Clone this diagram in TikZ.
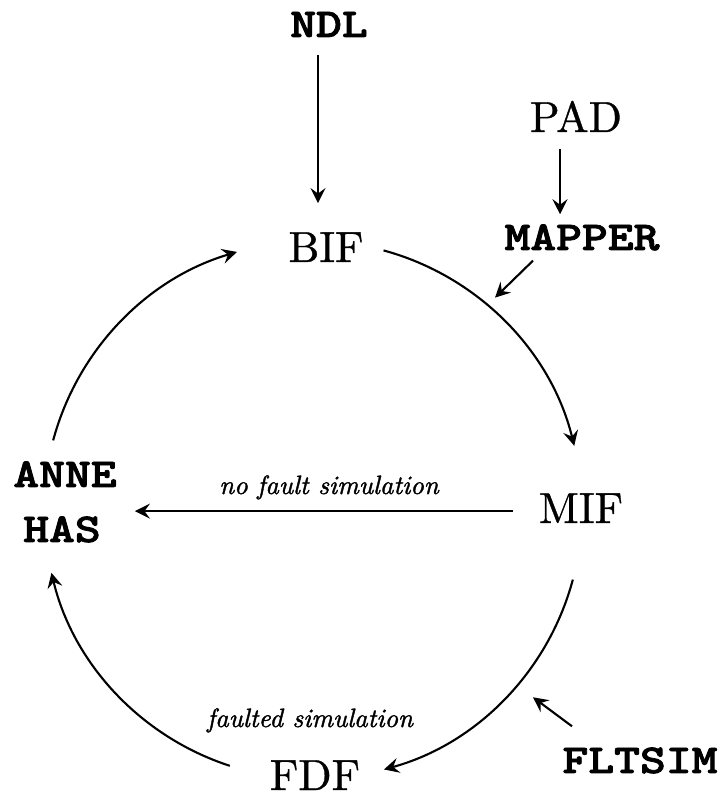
\documentclass[tikz,border=0pt]{standalone}
\usepackage{graphicx}
\usepackage{fontspec}
\usetikzlibrary{arrows.meta}
\newfontfamily\rmheavy{lmroman10-regular.otf}[FakeBold=0.8]
\newfontfamily\itheavy{lmroman10-italic.otf}[FakeBold=1.4]
\newfontfamily\ttheavy{lmmonolt10-bold.otf}[FakeBold=1.8]
\newcommand{\ttwide}[1]{\scalebox{1.2}[1]{#1}}
\tikzset{
  rm/.style={inner sep=0pt, anchor=base, font=\fontsize{43.5}{43.5}\selectfont\rmheavy},
  code/.style={inner sep=0pt, anchor=base, font=\fontsize{41}{41}\selectfont\ttheavy},
  note/.style={inner sep=0pt, anchor=base, font=\fontsize{26.5}{26.5}\selectfont\itheavy},
  arr/.style={line width=2.1pt, -{Stealth[length=15pt,width=15pt,inset=5.5pt]}},
}
\begin{document}
\begin{tikzpicture}[x=1pt,y=1pt]
\useasboundingbox (0,0) rectangle (720,794);
% nodes
\node[code] (ndl) at (329,757) {\ttwide{NDL}};
\node[rm] (bif) at (326,532) {BIF};
\node[rm] (pad) at (576,662) {PAD};
\node[code] (mapper) at (582,544) {\ttwide{MAPPER}};
\node[code] (anne) at (65,307) {\ttwide{ANNE}};
\node[code] (has) at (62,252) {\ttwide{HAS}};
\node[rm] (mif) at (581,271) {MIF};
\node[rm] (fdf) at (315,4) {FDF};
\node[code] (fltsim) at (640,21) {\ttwide{FLTSIM}};
\node[note] (nofault) at (329,300) {no fault simulation};
\node[note] (faulted) at (310,67) {faulted simulation};
\coordinate (c) at (313,284);
% straight connectors
\draw[arr] ([xshift=-11pt,yshift=-18pt]ndl.south) -- ([xshift=-8pt,yshift=29pt]bif.north);
\draw[arr] ([xshift=-16pt,yshift=-17pt]pad.south) -- ([xshift=-22pt,yshift=10pt]mapper.north);
\draw[arr] ([xshift=-49pt,yshift=-10pt]mapper.south) -- ([xshift=-87pt,yshift=-47pt]mapper.south);
\draw[arr] ([xshift=-68pt,yshift=21pt]fltsim.north) -- ([xshift=-107pt,yshift=50pt]fltsim.north);
\coordinate (mstart) at ([xshift=-26pt,yshift=-3pt]mif.west);
\coordinate (hastip) at ([xshift=34pt]has.east);
\draw[arr] (mstart) -- (mstart -| hastip);
% cycle arcs
\draw[arr] ([shift={(165:269)}]c) arc[start angle=165, end angle=106.4, radius=269];
\draw[arr] ([shift={(74.8:269)}]c) arc[start angle=74.8, end angle=13.8, radius=269];
\draw[arr] ([shift={(-15:269)}]c) arc[start angle=-15, end angle=-74.7, radius=269];
\draw[arr] ([shift={(252:269)}]c) arc[start angle=252, end angle=193.5, radius=269];
\end{tikzpicture}
\end{document}
